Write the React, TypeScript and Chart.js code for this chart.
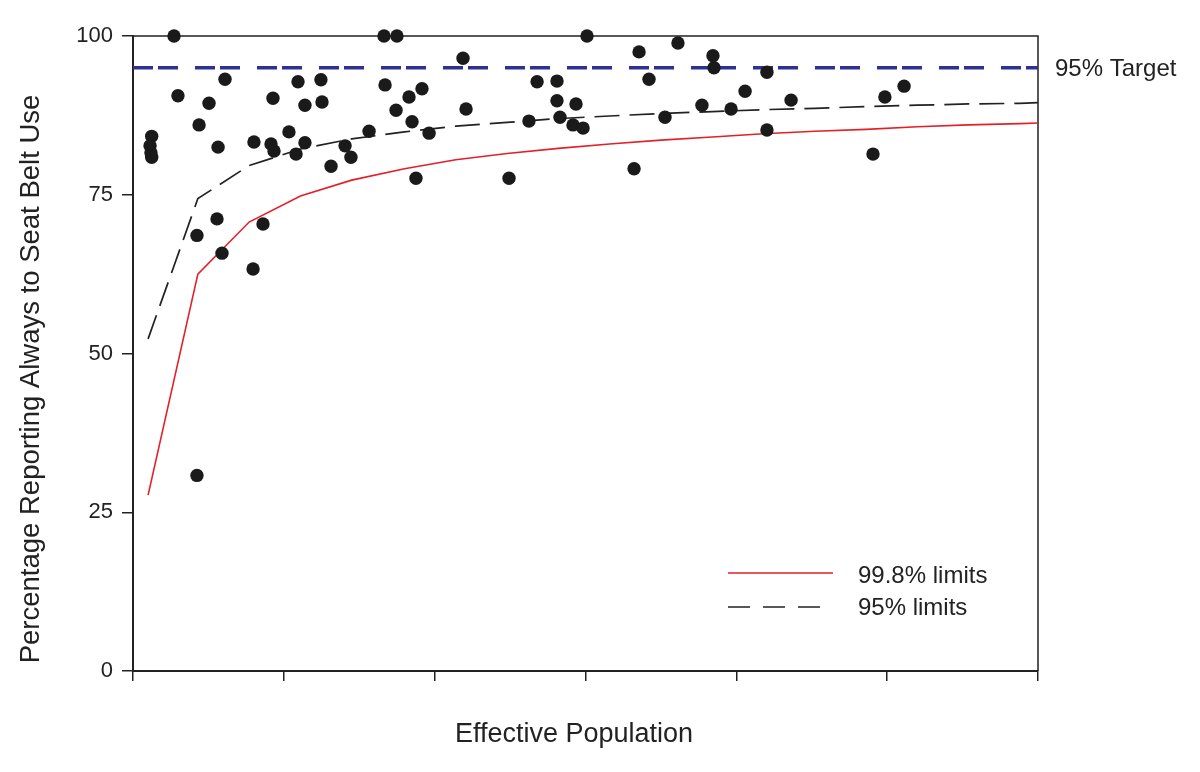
import React, { useEffect, useRef } from "react";
import { Chart, registerables } from "chart.js";

Chart.register(...registerables);

// Observed areas: effective population (axis units) and % reporting always wearing seat belts
const popX = [
  1.24, 1.13, 1.19, 1.24, 2.72, 2.98, 4.24, 4.24, 4.38, 5.04,
  5.64, 5.57, 5.9, 6.1, 8.02, 7.96, 8.62, 9.15, 9.28, 9.35,
  10.34, 10.81, 10.94, 11.4, 11.4, 12.46, 12.53, 13.13, 14.06, 14.45,
  15.65, 16.64, 16.71, 17.5, 17.44, 18.3, 18.5, 18.76, 19.16, 19.63,
  21.88, 22.08, 24.93, 26.25, 26.79, 28.11, 28.11, 28.31, 29.37, 29.17,
  29.84, 30.1, 33.22, 33.55, 34.21, 35.27, 36.13, 37.72, 38.45, 38.52,
  39.65, 40.58, 42.03, 42.03, 43.63, 49.06, 49.85, 51.12,
];
const pctY = [
  84.2, 82.7, 81.6, 80.9, 100, 90.6, 30.8, 68.6, 86.0, 89.4,
  82.5, 71.2, 65.8, 93.2, 83.3, 63.3, 70.4, 83.0, 90.2, 81.9,
  84.9, 81.4, 92.8, 89.1, 83.2, 93.1, 89.6, 79.5, 82.7, 80.9,
  85.0, 100, 92.3, 100, 88.3, 90.4, 86.5, 77.6, 91.7, 84.7,
  96.5, 88.5, 77.6, 86.6, 92.8, 92.9, 89.8, 87.2, 89.3, 86.0,
  85.5, 100, 79.1, 97.5, 93.2, 87.2, 98.9, 89.1, 96.9, 95.0,
  88.5, 91.3, 94.3, 85.2, 89.9, 81.4, 90.4, 92.1,
];

// Control limits
const limitX = [1, 4.3, 7.7, 11.1, 14.5, 18, 21.4, 24.8, 28.2, 31.6, 35, 38.4, 41.8, 45.2, 48.6, 52, 55.4, 58.8, 60];
const limit998 = [27.7, 62.5, 70.7, 74.8, 77.3, 79.1, 80.5, 81.5, 82.3, 83.0, 83.6, 84.1, 84.6, 85.0, 85.3, 85.7, 86.0, 86.2, 86.3];
const limit95 = [52.3, 74.4, 79.6, 82.2, 83.8, 84.9, 85.8, 86.4, 87.0, 87.4, 87.8, 88.1, 88.4, 88.6, 88.9, 89.1, 89.3, 89.4, 89.5];

const targetX = [0, 60];
const targetY = [95, 95];

const xMin = 0;
const xMax = 60;
const xStep = 10;
const yMin = 0;
const yMax = 100;
const yStep = 25;

const yTitle = "Percentage Reporting Always to Seat Belt Use";
const xTitle = "Effective Population";
const targetLabel = "95% Target";
const legendLabels = ["99.8% limits", "95% limits"];

const FONT = "'Liberation Sans', Arial, Helvetica, sans-serif";
const TEXT = "#222222";
const RED = "#e3202a";
const BLUE = "#2e3192";

const decorPlugin = {
  id: "decor",
  beforeDatasetsDraw(chart: any) {
    const { ctx, chartArea } = chart;
    ctx.save();
    ctx.strokeStyle = "#222";
    ctx.lineWidth = 1.5;
    ctx.beginPath();
    ctx.moveTo(chartArea.left, chartArea.top);
    ctx.lineTo(chartArea.right, chartArea.top);
    ctx.lineTo(chartArea.right, chartArea.bottom);
    ctx.stroke();
    ctx.restore();
  },
  afterDraw(chart: any) {
    const { ctx, chartArea } = chart;
    const yScale = chart.scales.y;
    ctx.save();
    ctx.fillStyle = TEXT;
    // axis titles
    ctx.font = `27px ${FONT}`;
    ctx.textAlign = "center";
    ctx.textBaseline = "middle";
    ctx.fillText(xTitle, 574, 735);
    ctx.save();
    ctx.translate(31, 379);
    ctx.rotate(-Math.PI / 2);
    ctx.font = `27.5px ${FONT}`;
    ctx.fillText(yTitle, 0, 0);
    ctx.restore();

    // target label
    ctx.font = `24px ${FONT}`;
    ctx.textAlign = "left";
    ctx.fillText(targetLabel, chartArea.right + 17, yScale.getPixelForValue(95) + 2);

    // legend
    const lx0 = chartArea.left + 595;
    const lx1 = lx0 + 105;
    const ly1 = 573;
    const ly2 = 607;
    ctx.lineWidth = 1.6;
    ctx.strokeStyle = RED;
    ctx.beginPath();
    ctx.moveTo(lx0, ly1);
    ctx.lineTo(lx1, ly1);
    ctx.stroke();
    ctx.strokeStyle = "#222";
    ctx.setLineDash([22, 13]);
    ctx.beginPath();
    ctx.moveTo(lx0, ly2);
    ctx.lineTo(lx0 + 94, ly2);
    ctx.stroke();
    ctx.setLineDash([]);
    ctx.fillText(legendLabels[0], lx0 + 130, ly1 + 3);
    ctx.fillText(legendLabels[1], lx0 + 130, ly2 + 1);
    ctx.restore();
  },
};

export default function App() {
  const ref = useRef<HTMLCanvasElement | null>(null);

  useEffect(() => {
    if (!ref.current) return;
    const points = popX.map((x, i) => ({ x, y: pctY[i] }));
    const red = limitX.map((x, i) => ({ x, y: limit998[i] }));
    const dashed = limitX.map((x, i) => ({ x, y: limit95[i] }));
    const target = targetX.map((x, i) => ({ x, y: targetY[i] }));

    const chart = new Chart(ref.current, {
      type: "scatter",
      data: {
        datasets: [
          {
            label: "Areas",
            data: points,
            pointRadius: 6.7,
            pointHoverRadius: 6.7,
            backgroundColor: "#1a1a1a",
            borderWidth: 0,
            clip: false,
          } as any,
          {
            label: legendLabels[0],
            data: red,
            showLine: true,
            pointRadius: 0,
            borderColor: RED,
            borderWidth: 1.6,
            tension: 0,
          },
          {
            label: legendLabels[1],
            data: dashed,
            showLine: true,
            pointRadius: 0,
            borderColor: "#222",
            borderWidth: 1.7,
            borderDash: [25, 10],
            tension: 0,
          },
          {
            label: targetLabel,
            data: target,
            showLine: true,
            pointRadius: 0,
            borderColor: BLUE,
            borderWidth: 3.5,
            borderDash: [20, 5, 20, 17],
          },
        ],
      },
      options: {
        animation: false,
        responsive: false,
        maintainAspectRatio: false,
        events: [],
        layout: { padding: { top: 36, right: 162, bottom: 0, left: 0 } },
        plugins: {
          legend: { display: false },
          tooltip: { enabled: false },
          title: { display: false },
        },
        scales: {
          x: {
            type: "linear",
            min: xMin,
            max: xMax,
            ticks: { stepSize: xStep, display: false },
            grid: {
              drawOnChartArea: false,
              drawTicks: true,
              tickLength: 10,
              color: "#222",
              lineWidth: 1.5,
            },
            border: { display: true, color: "#222", width: 2 },
            afterFit(scale: any) {
              scale.height = 101;
            },
          },
          y: {
            type: "linear",
            min: yMin,
            max: yMax,
            ticks: {
              stepSize: yStep,
              padding: 9,
              color: TEXT,
              font: { family: FONT, size: 22 },
            },
            grid: {
              drawOnChartArea: false,
              drawTicks: true,
              tickLength: 11,
              color: "#222",
              lineWidth: 1.5,
            },
            border: { display: true, color: "#222", width: 2 },
            afterFit(scale: any) {
              scale.width = 133;
            },
          },
        },
      } as any,
      plugins: [decorPlugin],
    });
    return () => chart.destroy();
  }, []);

  return (
    <div style={{ position: "absolute", left: 0, top: 0, width: 1200, height: 772, background: "#fff" }}>
      <canvas ref={ref} width={1200} height={772} style={{ width: 1200, height: 772 }} />
    </div>
  );
}
